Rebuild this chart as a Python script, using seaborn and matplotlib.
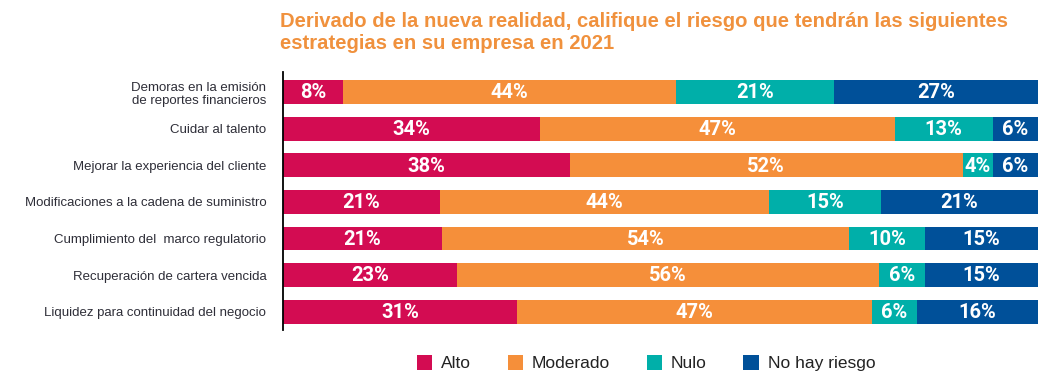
import matplotlib
matplotlib.use("Agg")
import matplotlib.pyplot as plt
import seaborn as sns
import numpy as np
import pandas as pd
from matplotlib.patches import Patch
from matplotlib import font_manager

categories = [
    "Demoras en la emisión\nde reportes financieros",
    "Cuidar al talento",
    "Mejorar la experiencia del cliente",
    "Modificaciones a la cadena de suministro",
    "Cumplimiento del  marco regulatorio",
    "Recuperación de cartera vencida",
    "Liquidez para continuidad del negocio",
]
alto = [8, 34, 38, 21, 21, 23, 31]
moderado = [44, 47, 52, 44, 54, 56, 47]
nulo = [21, 13, 4, 15, 10, 6, 6]
no_hay = [27, 6, 6, 21, 15, 15, 16]
series_names = ["Alto", "Moderado", "Nulo", "No hay riesgo"]
colors = ["#D30C52", "#F58F3A", "#00AFA9", "#005099"]
title = ("Derivado de la nueva realidad, califique el riesgo que tendrán las siguientes\n"
         "estrategias en su empresa en 2021")

sns.set_theme(style="white")
names = {f.name for f in font_manager.fontManager.ttflist}
narrow = "Liberation Sans Narrow" if "Liberation Sans Narrow" in names else "Liberation Sans"
plt.rcParams["font.family"] = ["Liberation Sans", "DejaVu Sans"]

fig = plt.figure(figsize=(10.56, 3.9), dpi=100)
ax = fig.add_axes([283 / 1056, 1 - 330 / 390, (1038 - 283) / 1056, (330 - 72) / 390])

vals = np.array([alto, moderado, nulo, no_hay], dtype=float)
totals = vals.sum(axis=0)
norm = vals / totals * 100
cum = np.cumsum(norm, axis=0)

for i in range(len(series_names) - 1, -1, -1):
    df = pd.DataFrame({"cat": categories, "v": cum[i]})
    sns.barplot(data=df, y="cat", x="v", orient="h", color=colors[i],
                saturation=1, width=0.65, ax=ax, linewidth=0)

for i in range(len(series_names)):
    starts = cum[i] - norm[i]
    for j in range(len(categories)):
        ax.text(starts[j] + norm[i][j] / 2, j + 0.02, f"{vals[i][j]:.0f}%",
                ha="center", va="center", color="white", fontsize=14.5,
                fontweight="bold", family=["Roboto", "DejaVu Sans"])

ax.set_xlim(0, 100)
ax.set_ylim(6.5, -0.55)
ax.set_xlabel("")
ax.set_ylabel("")
ax.set_xticks([])
for s in ["top", "right", "bottom"]:
    ax.spines[s].set_visible(False)
ax.spines["left"].set_color("black")
ax.spines["left"].set_linewidth(1.3)
ax.tick_params(axis="y", length=0, pad=12)
for lbl in ax.get_yticklabels():
    lbl.set_family([narrow, "DejaVu Sans"])
    lbl.set_fontsize(9.5)
    lbl.set_color("#2E2E38")
    lbl.set_horizontalalignment("right")
    lbl.set_multialignment("right")

fig.text(280 / 1056, 1 - 12 / 390, title, ha="left", va="top", color="#F0913D",
         fontsize=14.6, fontweight="bold", family=[narrow, "DejaVu Sans"],
         linespacing=1.22)

handles = [Patch(facecolor=c, edgecolor="none") for c in colors]
leg = fig.legend(handles, series_names, loc="center", ncol=4,
                 bbox_to_anchor=(646 / 1056, 1 - 363 / 390), frameon=False,
                 handlelength=0.9, handleheight=1.0, handletextpad=0.5,
                 columnspacing=2.1, prop={"family": narrow, "size": 12.5})
for t in leg.get_texts():
    t.set_color("#222222")

fig.savefig("out.png", dpi=100)
